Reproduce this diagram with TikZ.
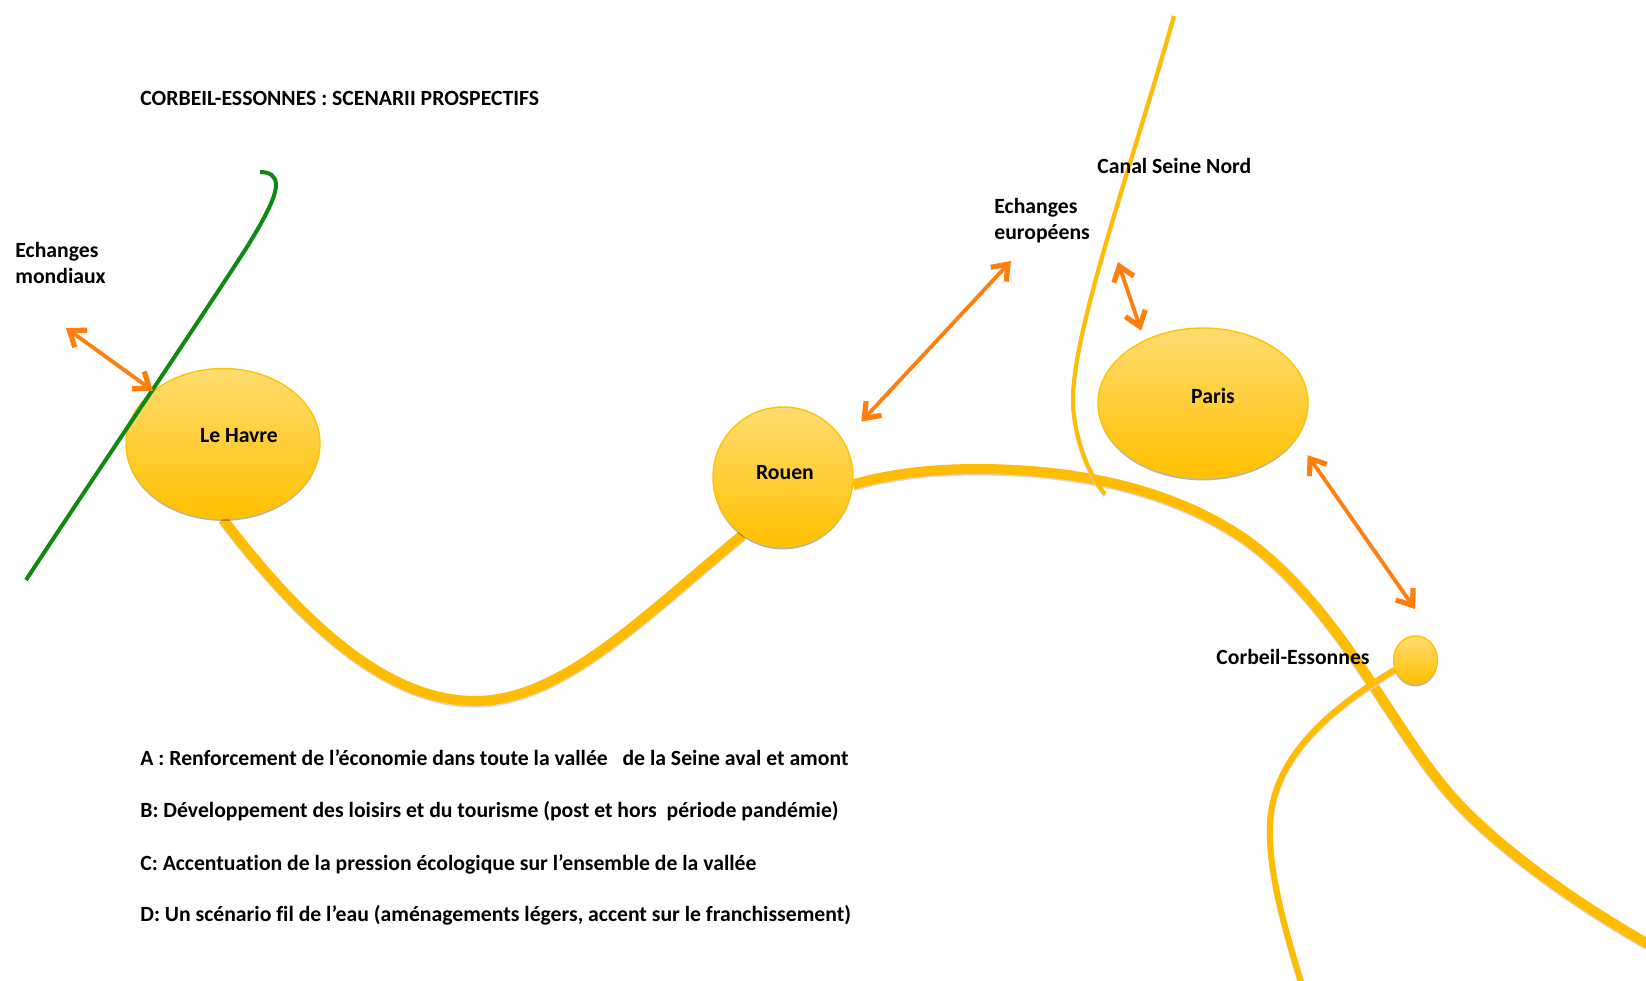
\documentclass[tikz,border=0pt]{standalone}
\usepackage{fontspec}
\usepackage{tikz}
\usetikzlibrary{arrows.meta,shapes.geometric,shadows,backgrounds}
\setmainfont{Carlito}[Ligatures=NoCommon]
\tikzset{
    ville/.style={ellipse, draw=ville, line width=0.7pt,
                  top color=villeclair, bottom color=ville!98!red, inner sep=0pt,
                  drop shadow={shadow xshift=0pt, shadow yshift=-1.2pt, opacity=0.3, fill=black}},
    fleuve/.style={draw=fleuveclair, line width=#1, preaction={draw=black!15, line width=#1, transform canvas={yshift=-0.8pt}}},
    echange/.style={draw=fleche, line width=1.9pt, {Straight Barb[length=7pt,width=10.5pt,line width=2.6pt]}-{Straight Barb[length=7pt,width=10.5pt,line width=2.6pt]}},
    texte/.style={font=\bfseries\fontsize{10.85}{13}\selectfont, anchor=west, align=left, inner sep=0pt},
    nomville/.style={font=\bfseries\fontsize{10.85}{13}\selectfont, inner sep=0pt}
}
\definecolor{ville}{HTML}{FFC400}
\definecolor{villeclair}{HTML}{FFDC70}
\definecolor{fleuveclair}{HTML}{FFBC00}
\definecolor{fleche}{HTML}{FF7F0E}
\definecolor{monde}{HTML}{0E8A12}
\begin{document}
\begin{tikzpicture}[x=0.5pt,y=-0.5pt]
    \useasboundingbox (0,0) rectangle (1646,981);
    \node[texte] (titre) at (140,98) {CORBEIL-ESSONNES : SCENARII PROSPECTIFS};
    \node[ville, minimum width=97pt, minimum height=75pt] (lehavre) at (223,443.5) {};
    \node[ville, minimum width=70pt, minimum height=70pt] (rouen) at (783,477) {};
    \node[ville, minimum width=105pt, minimum height=75pt] (paris) at (1203,403) {};
    \node[ville, minimum width=22pt, minimum height=24pt] (corbeil) at (1415.5,660) {};
    \begin{scope}[on background layer]
        \draw[fleuve=5pt] (lehavre.south) .. controls (300,620) and (385,701) .. (475,701)
            .. controls (560,701) and (640,620) .. (rouen.-125);
        \draw[fleuve=5pt] (rouen.-6) .. controls (890,474) and (930,469) .. (977,469)
            .. controls (1080,469) and (1170,490) .. (1239,535)
            .. controls (1295,572) and (1340,635) .. (1375,688)
            .. controls (1410,741) and (1425,765) .. (1449,793)
            .. controls (1490,841) and (1570,900) .. (1650,945);
        \draw[fleuve=3pt] (corbeil.-155) .. controls (1345,700) and (1272,750) .. (1270,825)
            .. controls (1268,870) and (1285,930) .. (1302,985);
        \draw[fleuve=2pt] (1174,16) .. controls (1130,170) and (1073,330) .. (1073,399)
            .. controls (1073,430) and (1085,470) .. (1105,494);
    \end{scope}
    \node[nomville] (nomhavre) at (239,436) {Le Havre};
    \node[nomville] (nomrouen) at (785,473) {Rouen};
    \node[nomville] (nomparis) at (1213,396) {Paris};
    \node[texte] (nomcorbeil) at (1216,657) {Corbeil-Essonnes};
    \node[texte] (mondiaux) at (15,263) {Echanges\\mondiaux};
    \node[texte] (europeens) at (994,221) {Echanges\\européens};
    \node[texte] (canal) at (1097,166) {Canal Seine Nord};
    \coordinate (tipmonde) at (66,328);
    \coordinate (tipeurope) at (1011,261);
    \coordinate (tipcanal) at (1118,262);
    \coordinate (tipcorbeil) at (1415,609);
    \coordinate (departvert) at (26,580);
    \coordinate (crochet) at (260,172);
    \draw[draw=monde, line width=2pt] (departvert) .. controls (95,475) and (190,335) .. (247,247)
        .. controls (268,213) and (276,195) .. (276,185) .. controls (276,176) and (270,172) .. (crochet);
    \draw[echange] (tipmonde) -- (lehavre.143);
    \draw[echange, shorten >=13pt] (tipeurope) -- (rouen.31);
    \draw[echange, shorten >=5pt] (tipcanal) -- (paris.133);
    \draw[echange, shorten <=10pt] (paris.-21) -- (tipcorbeil);
    \node[texte] (sca) at (140,758) {A : Renforcement de l’économie dans toute la vallée\ \ \ de la Seine aval et amont};
    \node[texte] (scb) at (140,811) {B: Développement des loisirs et du tourisme (post et hors\ \ période pandémie)};
    \node[texte] (scc) at (140,864) {C: Accentuation de la pression écologique sur l’ensemble de la vallée};
    \node[texte] (scd) at (140,915) {D: Un scénario fil de l’eau (aménagements légers, accent sur le franchissement)};
\end{tikzpicture}
\end{document}
